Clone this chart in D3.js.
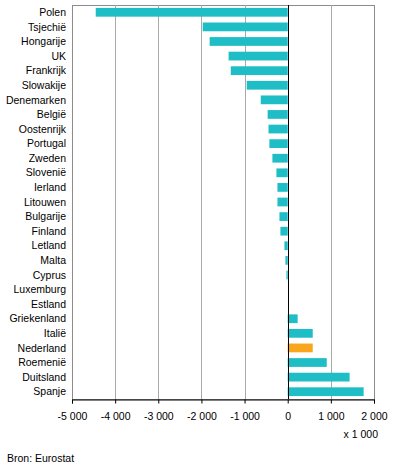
<!DOCTYPE html>
<html>
<head>
<meta charset="utf-8">
<script src="https://cdn.jsdelivr.net/npm/d3@7"></script>
<style>
  body { margin: 0; background: #fff; }
  text { font-family: "Liberation Sans", Arial, sans-serif; font-size: 10.5px; fill: #000; }
</style>
</head>
<body>
<svg id="chart" width="396" height="476"></svg>
<script>
// landen, van boven naar beneden
var countries = ["Polen", "Tsjechië", "Hongarije", "UK", "Frankrijk", "Slowakije", "Denemarken",
  "België", "Oostenrijk", "Portugal", "Zweden", "Slovenië", "Ierland", "Litouwen", "Bulgarije",
  "Finland", "Letland", "Malta", "Cyprus", "Luxemburg", "Estland", "Griekenland", "Italië",
  "Nederland", "Roemenië", "Duitsland", "Spanje"];
// saldo x 1 000
var values = [-4450, -1970, -1810, -1370, -1320, -950, -625,
  -465, -445, -425, -355, -262, -238, -238, -192,
  -169, -76, -53, -30, 0, 0, 230, 580,
  580, 905, 1435, 1760];
var xTicks = [-5000, -4000, -3000, -2000, -1000, 0, 1000, 2000];
var highlight = "Nederland";

var svg = d3.select("#chart");
var margin = {left: 72, right: 22, top: 5, bottom: 77};
var w = 396 - margin.left - margin.right,
    h = 476 - margin.top - margin.bottom;

var x = d3.scaleLinear().domain([-5000, 2000]).range([0, w]);
var y = d3.scaleBand().domain(countries).range([0, h]).paddingInner(0.4).paddingOuter(0.2);

var g = svg.append("g").attr("transform", "translate(" + margin.left + "," + margin.top + ")");

// frame + grid
g.append("rect").attr("x", 0.5).attr("y", 0.5).attr("width", w).attr("height", h)
  .attr("fill", "none").attr("stroke", "#8c8c8c");
g.selectAll(".grid").data(xTicks.filter(function(d){ return d != 0 && d != -5000 && d != 2000; }))
  .enter().append("line")
  .attr("x1", function(d){ return Math.round(x(d)) + 0.5; })
  .attr("x2", function(d){ return Math.round(x(d)) + 0.5; })
  .attr("y1", 0).attr("y2", h)
  .attr("stroke", "#aaaaaa");

// bars
var data = countries.map(function(c, i){ return {name: c, value: values[i]}; });
g.selectAll(".bar").data(data).enter().append("rect")
  .attr("x", function(d){ return x(Math.min(0, d.value)); })
  .attr("y", function(d){ return y(d.name); })
  .attr("width", function(d){ return Math.abs(x(d.value) - x(0)); })
  .attr("height", y.bandwidth())
  .attr("fill", function(d){ return d.name == highlight ? "#f9a61e" : "#1fbec6"; });

// zero line
g.append("line").attr("x1", Math.round(x(0)) + 0.5).attr("x2", Math.round(x(0)) + 0.5)
  .attr("y1", 0).attr("y2", h).attr("stroke", "#000");

// x axis, spatie als duizendtalscheiding en gewoon minteken
var fmt = function(d){ return d3.format(",")(d).replace(/,/g, " ").replace("\u2212", "-"); };
var xAxis = g.append("g").attr("transform", "translate(0," + (h + 0.5) + ")")
  .call(d3.axisBottom(x).tickValues(xTicks).tickSize(4).tickPadding(9).tickFormat(fmt));
xAxis.select(".domain").attr("stroke", "#000");
xAxis.selectAll(".tick line").attr("stroke", "#000");
xAxis.selectAll("text").style("font-size", "10.5px").style("font-family", "Liberation Sans, Arial, sans-serif");

// y labels
g.selectAll(".lab").data(countries).enter().append("text")
  .attr("x", -6)
  .attr("y", function(d){ return y(d) + y.bandwidth() / 2; })
  .attr("dy", "0.35em")
  .attr("text-anchor", "end")
  .text(function(d){ return d; });

svg.append("text").attr("x", 378).attr("y", 438).attr("text-anchor", "end").text("x 1 000");
svg.append("text").attr("x", 7).attr("y", 462).text("Bron: Eurostat");
</script>
</body>
</html>
